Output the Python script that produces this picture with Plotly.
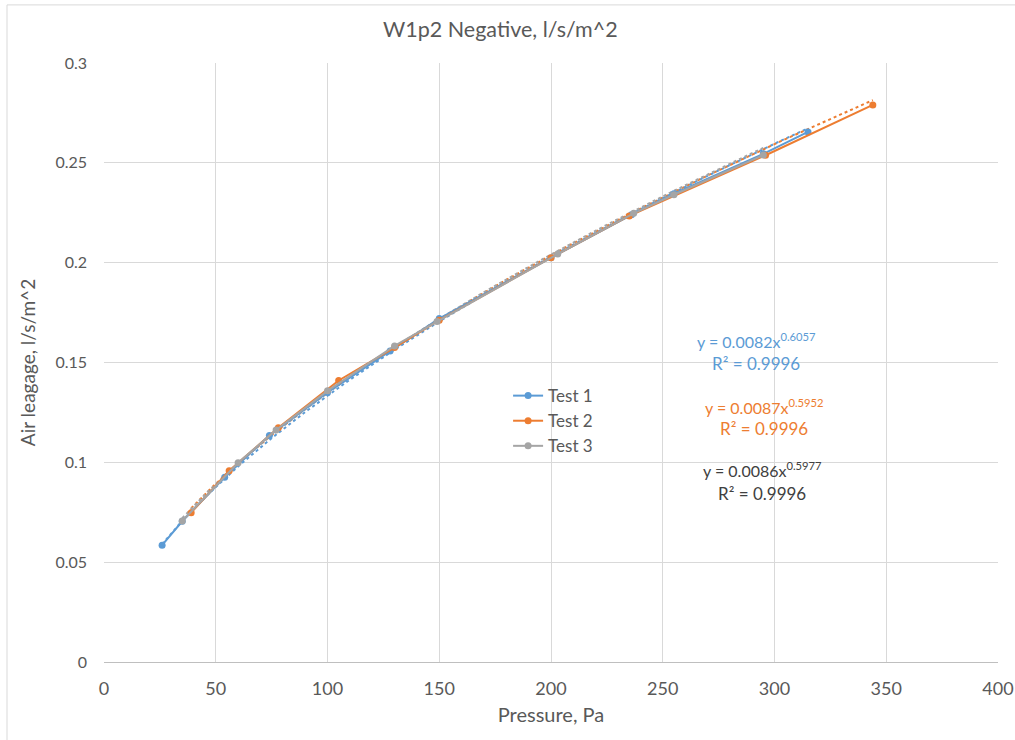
import numpy as np
import plotly.graph_objects as go

title_text = "W1p2 Negative, l/s/m^2"
x_title = "Pressure, Pa"
y_title = "Air leagage, l/s/m^2"

test1_x = [26, 35, 54, 74, 100, 128, 150, 200, 236, 255, 295, 315]
test1_y = [0.0585, 0.0705, 0.0925, 0.1135, 0.1350, 0.1557, 0.1720, 0.2025, 0.2240, 0.2345, 0.2545, 0.2655]

test2_x = [39, 56, 78, 105, 130, 150, 200, 235, 296, 344]
test2_y = [0.0748, 0.0958, 0.1173, 0.1410, 0.1575, 0.1712, 0.2025, 0.2234, 0.2538, 0.2790]

test3_x = [35, 60, 77, 100, 130, 149, 203, 237, 255, 295]
test3_y = [0.0706, 0.0998, 0.1162, 0.1358, 0.1583, 0.1705, 0.2043, 0.2247, 0.2340, 0.2539]

# power trendline coefficients (as displayed)
fit1 = (0.0082, 0.6057)
fit2 = (0.0087, 0.5952)
fit3 = (0.0086, 0.5977)

names = ["Test 1", "Test 2", "Test 3"]
colors = ["#5b9bd5", "#ed7d31", "#a5a5a5"]
eq_colors = ["#5b9bd5", "#ed7d31", "#404040"]

FONT = "Lato"
TXT = "#595959"

fig = go.Figure()
series = [(test1_x, test1_y, fit1), (test2_x, test2_y, fit2), (test3_x, test3_y, fit3)]
for (xs, ys, (a, b)), name, col in zip(series, names, colors):
    xt = np.linspace(min(xs), max(xs), 200)
    fig.add_trace(go.Scatter(x=xt, y=a * xt ** b, mode="lines",
                             line=dict(color=col, width=2, dash="dot"),
                             showlegend=False, hoverinfo="skip"))
for (xs, ys, _), name, col in zip(series, names, colors):
    fig.add_trace(go.Scatter(x=xs, y=ys, mode="lines+markers", name=name,
                             line=dict(color=col, width=2),
                             marker=dict(color=col, size=7)))

# trendline equation labels
eq_pos = [(756, 0.1612, 0.1497), (764, 0.1282, 0.1170), (762, 0.0966, 0.0846)]
for (a, b), col, (px, y1, y2) in zip([fit1, fit2, fit3], eq_colors, eq_pos):
    xv = (px - 104) / 894 * 400
    fig.add_annotation(x=xv, y=y1, text=f"y = {a}x<sup>{b}</sup>", showarrow=False,
                       font=dict(family=FONT, size=16, color=col))
    fig.add_annotation(x=xv, y=y2, text="R² = 0.9996", showarrow=False,
                       font=dict(family=FONT, size=17, color=col))

# chart-area border (left and top)
fig.add_shape(type="line", xref="paper", yref="paper", x0=-0.1085, x1=-0.1085, y0=-0.15, y1=1.097,
              line=dict(color="#d9d9d9", width=1))
fig.add_shape(type="line", xref="paper", yref="paper", x0=-0.1085, x1=1.03, y0=1.097, y1=1.097,
              line=dict(color="#d9d9d9", width=1))

# chart title (centred over the chart area, left of the plot centre)
fig.add_annotation(xref="paper", yref="paper", x=(500 - 104) / 894, y=(662 - 29) / 599,
                   text=title_text, showarrow=False, xanchor="center", yanchor="middle",
                   font=dict(family=FONT, size=21.5, color=TXT))

fig.update_layout(
    width=1015, height=740,
    margin=dict(l=104, r=17, t=63, b=78),
    paper_bgcolor="white", plot_bgcolor="white",
    font=dict(family=FONT, color=TXT),
    legend=dict(x=0.452, y=0.474, xanchor="left", yanchor="top",
                font=dict(family=FONT, size=17, color=TXT),
                bgcolor="rgba(0,0,0,0)", tracegroupgap=0, itemwidth=30),
    showlegend=True,
)
fig.update_xaxes(range=[0, 400], dtick=50, showgrid=True, gridcolor="#d9d9d9", gridwidth=1,
                 zeroline=False, showline=True, linecolor="#bfbfbf", linewidth=1, automargin=False,
                 ticks="", tickfont=dict(family=FONT, size=18, color=TXT), ticklabelstandoff=10,
                 title=dict(text=x_title, font=dict(family=FONT, size=20, color=TXT), standoff=10))
fig.update_yaxes(range=[0, 0.3], dtick=0.05, showgrid=True, gridcolor="#d9d9d9", gridwidth=1,
                 zeroline=False, showline=False, tickformat="~g", automargin=False,
                 ticks="", tickfont=dict(family=FONT, size=16, color=TXT), ticklabelstandoff=16,
                 title=dict(text=y_title, font=dict(family=FONT, size=19, color=TXT), standoff=14))

fig.write_html("out.html", config={"displayModeBar": False},
               post_script="document.body.style.margin='0';document.body.style.overflow='hidden';")
